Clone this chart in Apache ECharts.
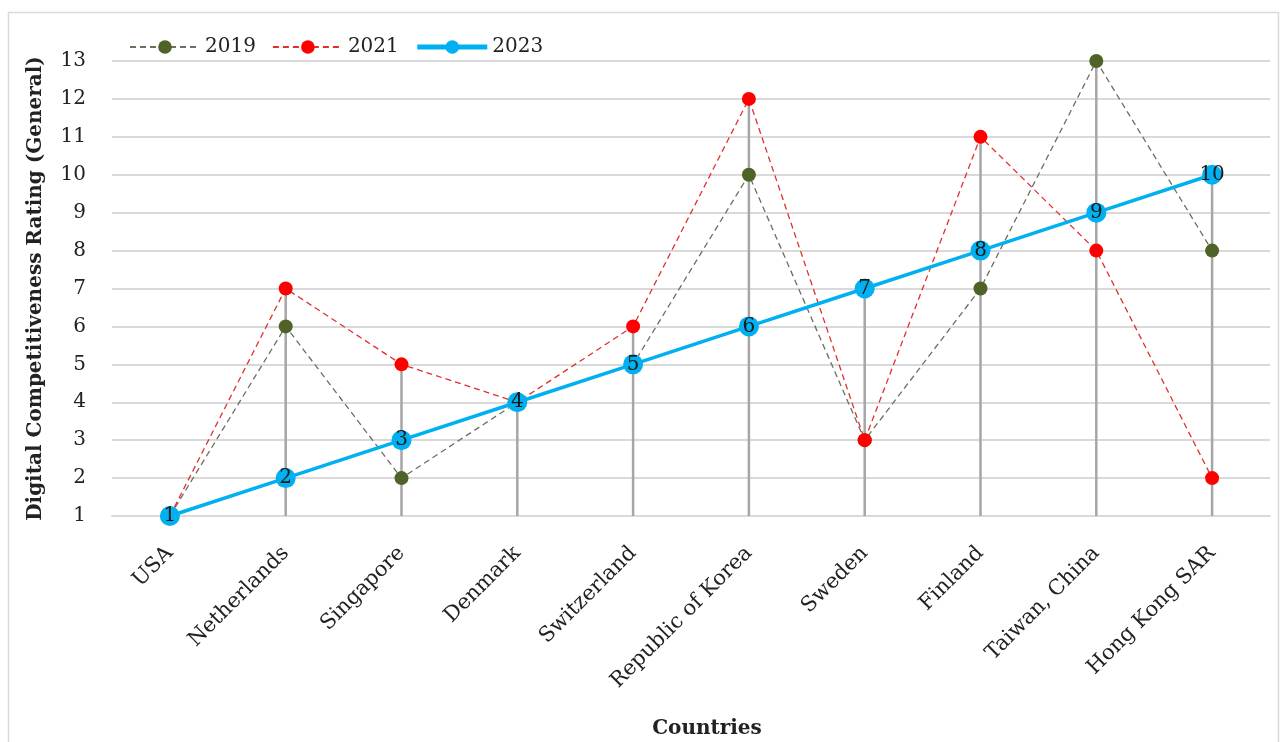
<!DOCTYPE html>
<html>
<head>
<meta charset="utf-8">
<script src="https://cdn.jsdelivr.net/npm/echarts@6/dist/echarts.min.js"></script>
<style>
  html, body { margin: 0; padding: 0; background: #ffffff; overflow: hidden; }
  #chart { width: 1283px; height: 742px; }
</style>
</head>
<body>
<div id="chart"></div>
<script>
// Country ranking data
const countries = ['USA', 'Netherlands', 'Singapore', 'Denmark', 'Switzerland',
  'Republic of Korea', 'Sweden', 'Finland', 'Taiwan, China', 'Hong Kong SAR'];
const rank2019 = [1, 6, 2, 4, 5, 10, 3, 7, 13, 8];
const rank2021 = [1, 7, 5, 4, 6, 12, 3, 11, 8, 2];
const rank2023 = [1, 2, 3, 4, 5, 6, 7, 8, 9, 10];
const yTicks = [1, 2, 3, 4, 5, 6, 7, 8, 9, 10, 11, 12, 13];

// Drop lines reach from the axis to the highest point of each category
const dropTop = countries.map((_, i) => Math.max(rank2019[i], rank2021[i], rank2023[i]));

const serif = '"DejaVu Serif", "Liberation Serif", serif';
const chart = echarts.init(document.getElementById('chart'));

chart.setOption({
  animation: false,
  textStyle: { fontFamily: serif, color: '#222' },
  graphic: [{
    type: 'rect',
    shape: { x: 8.5, y: 12.5, width: 1270, height: 740 },
    style: { fill: 'none', stroke: '#d9d9d9', lineWidth: 1.5 },
    silent: true
  }],
  legend: {
    left: 124,
    top: 32,
    itemWidth: 70,
    itemHeight: 17,
    itemGap: 16,
    textStyle: { fontFamily: serif, fontSize: 20, color: '#222' },
    data: [
      { name: '2019' },
      { name: '2021' },
      { name: '2023', lineStyle: { width: 5 } }
    ]
  },
  grid: { left: 112, right: 13, top: 61, bottom: 226, containLabel: false, outerBoundsMode: 'none' },
  xAxis: {
    type: 'category',
    data: countries,
    boundaryGap: true,
    axisLine: { show: true, lineStyle: { color: '#d9d9d9', width: 2 } },
    axisTick: { show: false },
    axisLabel: {
      rotate: 45,
      margin: 34,
      interval: 0,
      fontFamily: serif,
      fontSize: 21,
      color: '#222'
    },
    name: 'Countries',
    nameLocation: 'middle',
    nameGap: 203,
    nameTextStyle: { fontFamily: serif, fontSize: 20, fontWeight: 'bold', color: '#222', padding: [0, 0, 0, 32] }
  },
  yAxis: {
    type: 'value',
    min: yTicks[0],
    max: yTicks[yTicks.length - 1],
    interval: 1,
    axisLine: { show: false },
    axisTick: { show: false },
    splitLine: { lineStyle: { color: '#d9d9d9', width: 2 } },
    axisLabel: { fontFamily: serif, fontSize: 20, color: '#222', margin: 26 },
    name: 'Digital Competitiveness Rating (General)',
    nameLocation: 'middle',
    nameGap: 66,
    nameTextStyle: { fontFamily: serif, fontSize: 20, fontWeight: 'bold', color: '#222' }
  },
  series: [
    {
      name: 'drop',
      type: 'bar',
      data: dropTop,
      barWidth: 2.5,
      itemStyle: { color: '#a6a6a6' },
      silent: true,
      z: 1
    },
    {
      name: '2019',
      type: 'line',
      data: rank2019,
      symbol: 'circle',
      symbolSize: 14,
      itemStyle: { color: '#4f6228' },
      lineStyle: { color: '#6e6e5e', width: 1.3, type: [6, 4] },
      z: 3
    },
    {
      name: '2021',
      type: 'line',
      data: rank2021,
      symbol: 'circle',
      symbolSize: 14,
      itemStyle: { color: '#ff0000' },
      lineStyle: { color: '#e0302e', width: 1.3, type: [6, 4] },
      z: 4
    },
    {
      name: '2023',
      type: 'line',
      data: rank2023,
      symbol: 'circle',
      symbolSize: 20,
      itemStyle: { color: '#00b0f0' },
      lineStyle: { color: '#00b0f0', width: 3.5 },
      label: {
        show: true,
        position: 'inside',
        fontFamily: serif,
        fontSize: 20,
        color: '#1a1a1a'
      },
      z: 5
    }
  ]
});
</script>
</body>
</html>
